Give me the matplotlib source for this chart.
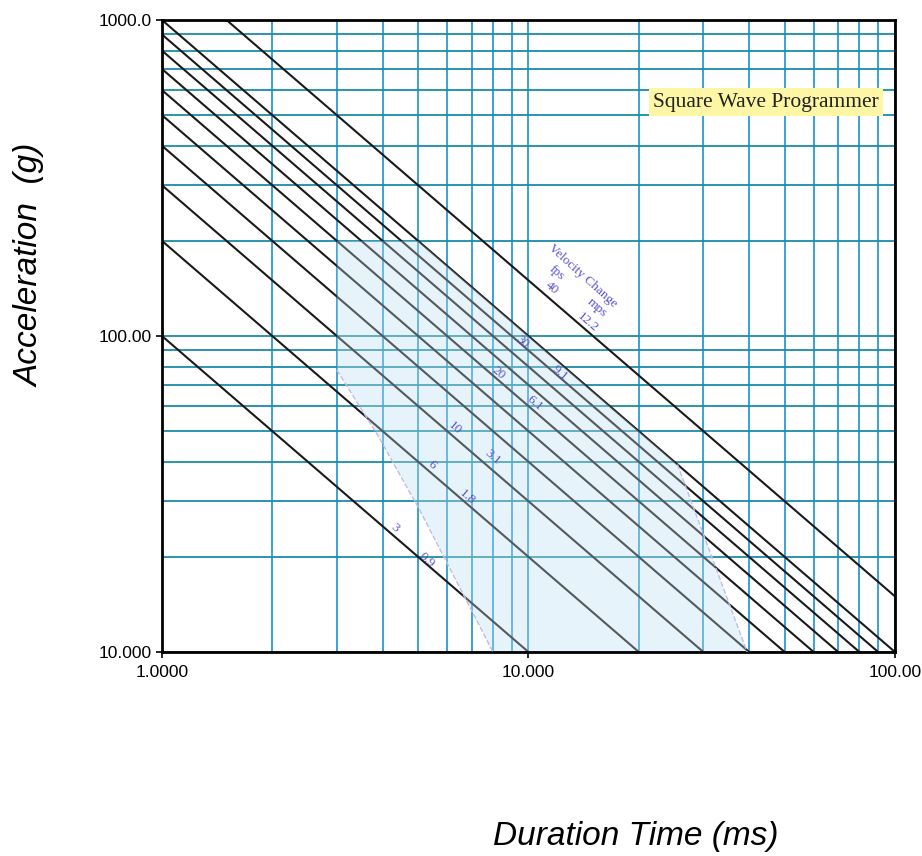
import matplotlib
matplotlib.use("Agg")
import matplotlib.pyplot as plt
from matplotlib.ticker import FixedLocator, NullFormatter
import numpy as np

# constant A*T lines (g*ms)
k_values = [100, 200, 300, 400, 500, 600, 700, 800, 900, 1000, 1500]
t_span = [1.0, 100.0]

# shaded operating region (duration ms, acceleration g)
region_t = [3.0, 5.0, 25.5, 39.5, 8.0, 5.06, 3.86, 3.0]
region_a = [200, 200, 39.2, 10, 10, 28, 49, 78]
left_edge_t = [3.0, 3.86, 5.06, 8.0]
left_edge_a = [78, 49, 28, 10]
right_edge_t = [25.5, 39.5]
right_edge_a = [39.2, 10]

# velocity change labels: text, T, A
vel_text = ["30", "9.1", "20", "6.1", "10", "3.1", "6", "1.8", "3", "0.9",
            "fps", "40", "mps", "12.2"]
vel_t = [9.6, 12.2, 8.26, 10.4, 6.3, 8.0, 5.45, 6.8, 4.32, 5.29,
         11.96, 11.59, 15.38, 14.53]
vel_a = [95.7, 76.3, 76.3, 61.4, 51.1, 41.4, 39.1, 30.9, 24.7, 19.6,
         158.3, 141.8, 122.6, 110.7]

xticks = [1, 10, 100]
xtick_labels = ["1.0000", "10.000", "100.00"]
yticks = [10, 100, 1000]
ytick_labels = ["10.000", "100.00", "1000.0"]

fig = plt.figure(figsize=(9.22, 8.56), dpi=100)
ax = fig.add_axes([0.1757, 0.2383, 0.795, 0.7383])
ax.set_xscale("log")
ax.set_yscale("log")
ax.set_xlim(1, 100)
ax.set_ylim(10, 1000)

minor_x = [m * d for d in (1, 10) for m in range(2, 10)]
minor_y = [m * d for d in (10, 100) for m in range(2, 10)]
ax.xaxis.set_major_locator(FixedLocator(xticks))
ax.yaxis.set_major_locator(FixedLocator(yticks))
ax.xaxis.set_minor_locator(FixedLocator(minor_x))
ax.yaxis.set_minor_locator(FixedLocator(minor_y))
ax.xaxis.set_minor_formatter(NullFormatter())
ax.yaxis.set_minor_formatter(NullFormatter())
tick_font = dict(family=["Liberation Sans Narrow", "Liberation Sans"], size=12.5)
ax.set_xticklabels(xtick_labels, **tick_font)
ax.set_yticklabels(ytick_labels, **tick_font)
ax.tick_params(which="major", length=4, width=1.2, direction="out")
ax.tick_params(axis="x", pad=5)
ax.tick_params(which="minor", length=0)

ax.set_axisbelow(True)
ax.xaxis.grid(True, which="both", color="#2a9bd2", lw=1.3)
ax.yaxis.grid(True, which="both", color="#1b8ca8", lw=1.3)
for s in ax.spines.values():
    s.set_linewidth(2)

ax.fill(region_t, region_a, color="#ebf6fc", lw=0, zorder=0.4)

t = np.array(t_span)
for k in k_values:
    ax.plot(t, k / t, color="#1a1a1a", lw=1.5, zorder=2)

# lighten lines inside the region
ax.fill(region_t, region_a, color="#dcedf8", alpha=0.3, lw=0, zorder=2.5)
ax.plot(left_edge_t, left_edge_a, color="#c2bce6", lw=1, ls="--", zorder=2.6)
ax.plot(right_edge_t, right_edge_a, color="#c2bce6", lw=1, ls="--", zorder=2.6)

for s, x, y in zip(vel_text, vel_t, vel_a):
    ax.text(x, y, s, color="#5a52d6", fontsize=9.5, family="Liberation Serif",
            rotation=-41, ha="center", va="center", zorder=4)
ax.text(14.08, 154.8, "Velocity Change", color="#5a52d6", fontsize=9.5,
        family="Liberation Serif", rotation=-42, ha="center", va="center", zorder=4)

ax.text(44.5, 550, "Square Wave Programmer", fontsize=15.5, family="Liberation Serif",
        color="#222222", ha="center", va="center", zorder=5,
        bbox=dict(boxstyle="square,pad=0.2", fc="#fdf6a4", ec="none"))

fig.text(0.033, 0.69, "Acceleration  (g)", rotation=90, ha="center", va="center",
         fontsize=24, style="italic", family="Liberation Sans")
fig.text(0.689, 0.023, "Duration Time (ms)", ha="center", va="center",
         fontsize=24, style="italic", family="Liberation Sans")

fig.savefig("out.png", dpi=100)
